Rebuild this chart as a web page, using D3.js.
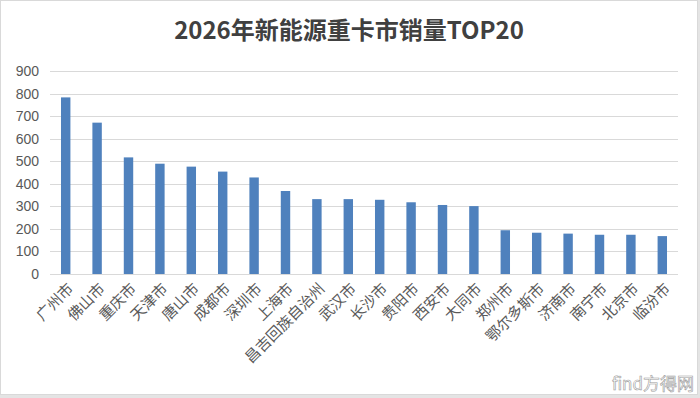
<!DOCTYPE html>
<html><head><meta charset="utf-8">
<script src="https://cdn.jsdelivr.net/npm/d3@7"></script>
<style>
html,body{margin:0;padding:0;background:#e4e4e4;}
svg{display:block;}
</style></head>
<body>
<script>
const categories = ["广州市","佛山市","重庆市","天津市","唐山市","成都市","深圳市","上海市","昌吉回族自治州","武汉市","长沙市","贵阳市","西安市","大同市","郑州市","鄂尔多斯市","济南市","南宁市","北京市","临汾市"];
const values = [783,671,517,489,476,454,428,368,332,332,329,318,306,301,194,183,179,174,174,168];
const yTicks = [0,100,200,300,400,500,600,700,800,900];
const title = "2026年新能源重卡市销量TOP20";

const W = 700, H = 398;
const svg = d3.select("body").append("svg").attr("width", W).attr("height", H);

svg.append("rect").attr("x",0.5).attr("y",0.5).attr("width",697).attr("height",394)
  .attr("fill","#ffffff").attr("stroke","#d9d9d9");

const x = d3.scaleBand().domain(categories).range([50,678]).paddingInner(0.7).paddingOuter(0.35);
const y = d3.scaleLinear().domain([0,900]).range([274,71]);

// grid
svg.append("g").selectAll("line").data(yTicks).join("line")
  .attr("x1",50).attr("x2",678)
  .attr("y1",d=>Math.round(y(d))+0.5).attr("y2",d=>Math.round(y(d))+0.5)
  .attr("stroke","#d9d9d9").attr("stroke-width",1);

// y axis labels
const yAxis = d3.axisLeft(y).tickValues(yTicks).tickSize(0).tickPadding(0);
const gy = svg.append("g").attr("transform","translate(39,0)").call(yAxis);
gy.select(".domain").remove();
gy.selectAll("text").attr("font-family","'Liberation Sans', Arial, sans-serif")
  .attr("font-size",14).attr("fill","#595959");

// bars
svg.append("g").selectAll("rect").data(values).join("rect")
  .attr("x",(d,i)=>x(categories[i]))
  .attr("width",x.bandwidth())
  .attr("y",d=>y(d))
  .attr("height",d=>y(0)-y(d))
  .attr("fill","#4f81bd");

// x labels
svg.append("g").selectAll("text").data(categories).join("text")
  .attr("transform",d=>`translate(${x(d)+x.bandwidth()/2+5},286) rotate(-45)`)
  .attr("text-anchor","end")
  .attr("dy","0.35em")
  .attr("font-family","'Noto Sans CJK SC', sans-serif")
  .attr("font-size",15).attr("fill","#595959")
  .text(d=>d);

// title
svg.append("text").attr("x",349).attr("y",39).attr("text-anchor","middle")
  .attr("font-family","'Noto Sans CJK SC', sans-serif").attr("font-weight","bold")
  .attr("font-size",24).attr("fill","#404040").text(title);

// watermark
svg.append("text").attr("x",694).attr("y",390).attr("text-anchor","end")
  .attr("font-family","'Noto Sans CJK SC', sans-serif")
  .attr("font-size",17).attr("fill","#ffffff").attr("stroke","#9a9a9a").attr("stroke-width",0.6)
  .text("find方得网");
</script>
</body></html>
